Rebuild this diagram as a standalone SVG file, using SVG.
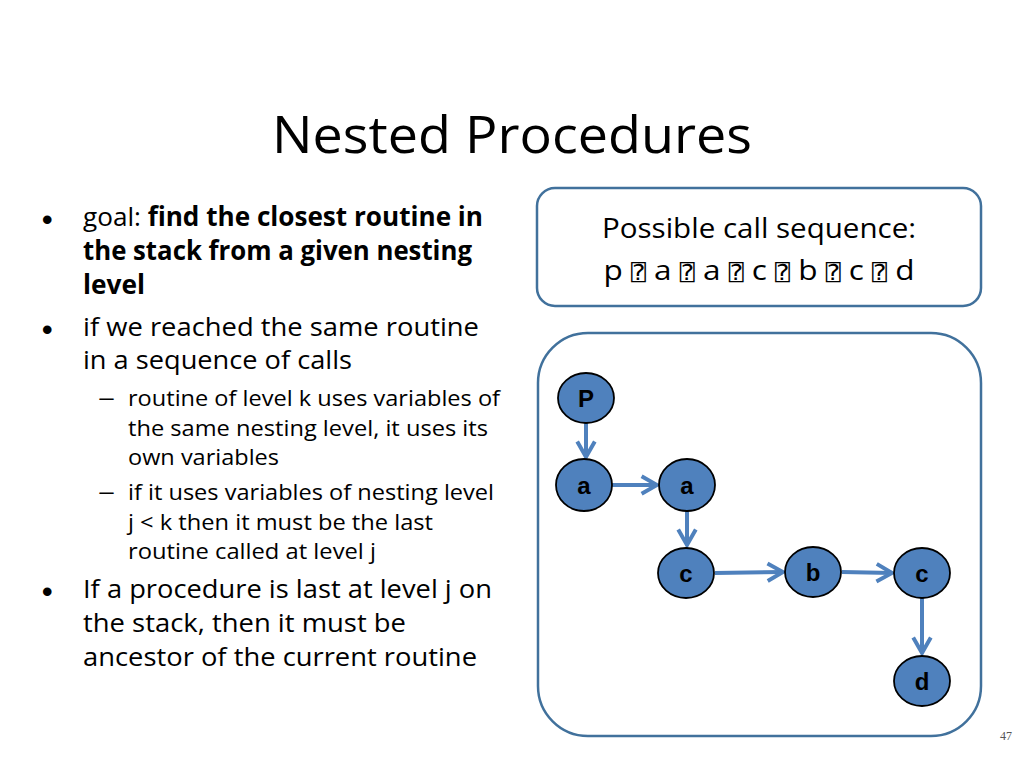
<svg xmlns="http://www.w3.org/2000/svg" width="1024" height="768" viewBox="0 0 1024 768">
<style>
.t{font-family:"Open Sans","Noto Sans","Liberation Sans",sans-serif;fill:#000}
.b1{font-size:26px}
.b2{font-size:22px}
.bul{font-family:"Liberation Sans",Arial,sans-serif;font-size:30px;font-weight:bold}
.bold{font-weight:bold}
.q{font-family:"DejaVu Sans Mono","DejaVu Sans",monospace;font-size:22px}
.box{fill:#fff;stroke:#41719c;stroke-width:2.5}
.node ellipse{fill:#4f81bd;stroke:#000;stroke-width:1.8}
.node text{font-family:"Liberation Sans",Arial,sans-serif;font-weight:bold;font-size:24px;fill:#000;text-anchor:middle}
.conn line{stroke:#4f81bd;stroke-width:4;marker-end:url(#ah)}
</style>
<defs>
<marker id="ah" viewBox="0 0 10 10" refX="8.5" refY="5" markerWidth="5.5" markerHeight="5.5" orient="auto" markerUnits="strokeWidth">
<path d="M1.5,1 L8.5,5 L1.5,9" fill="none" stroke="#4f81bd" stroke-width="1.8"/>
</marker>
</defs>
<rect width="1024" height="768" fill="#fff"/>
<text class="t" x="512" y="153" font-size="52" text-anchor="middle" textLength="480" lengthAdjust="spacingAndGlyphs">Nested Procedures</text>

<g id="bullets">
<text class="bul" x="42" y="230">•</text>
<text class="t b1" x="83" y="226" textLength="400" lengthAdjust="spacingAndGlyphs">goal: <tspan class="bold">find the closest routine in</tspan></text>
<text class="t b1 bold" x="83" y="260" textLength="389" lengthAdjust="spacingAndGlyphs">the stack from a given nesting</text>
<text class="t b1 bold" x="83" y="294" textLength="62" lengthAdjust="spacingAndGlyphs">level</text>
<text class="bul" x="42" y="340">•</text>
<text class="t b1" x="83" y="336" textLength="396" lengthAdjust="spacingAndGlyphs">if we reached the same routine</text>
<text class="t b1" x="83" y="369" textLength="269" lengthAdjust="spacingAndGlyphs">in a sequence of calls</text>
<text class="t b2" x="98" y="405" textLength="17" lengthAdjust="spacingAndGlyphs">–</text>
<text class="t b2" x="128" y="406" textLength="372" lengthAdjust="spacingAndGlyphs">routine of level k uses variables of</text>
<text class="t b2" x="128" y="436" textLength="360" lengthAdjust="spacingAndGlyphs">the same nesting level, it uses its</text>
<text class="t b2" x="128" y="465" textLength="151" lengthAdjust="spacingAndGlyphs">own variables</text>
<text class="t b2" x="98" y="499" textLength="17" lengthAdjust="spacingAndGlyphs">–</text>
<text class="t b2" x="128" y="500" textLength="366" lengthAdjust="spacingAndGlyphs">if it uses variables of nesting level</text>
<text class="t b2" x="128" y="530" textLength="305" lengthAdjust="spacingAndGlyphs">j &lt; k then it must be the last</text>
<text class="t b2" x="128" y="559" textLength="248" lengthAdjust="spacingAndGlyphs">routine called at level j</text>
<text class="bul" x="42" y="602">•</text>
<text class="t b1" x="83" y="598" textLength="409" lengthAdjust="spacingAndGlyphs">If a procedure is last at level j on</text>
<text class="t b1" x="83" y="632" textLength="323" lengthAdjust="spacingAndGlyphs">the stack, then it must be</text>
<text class="t b1" x="83" y="666" textLength="394" lengthAdjust="spacingAndGlyphs">ancestor of the current routine</text>
</g>

<g id="seqbox">
<rect class="box" x="537" y="188" width="444" height="118" rx="18"/>
<text class="t" x="759" y="238" font-size="28" text-anchor="middle" textLength="314" lengthAdjust="spacingAndGlyphs">Possible call sequence:</text>
<text class="t" x="759" y="280" font-size="28" text-anchor="middle" textLength="311" lengthAdjust="spacingAndGlyphs">p <tspan class="q">⍰</tspan> a <tspan class="q">⍰</tspan> a <tspan class="q">⍰</tspan> c <tspan class="q">⍰</tspan> b <tspan class="q">⍰</tspan> c <tspan class="q">⍰</tspan> d</text>
</g>

<rect id="graphbox" class="box" x="538" y="333" width="443" height="403" rx="50"/>

<g id="connectors" class="conn">
<line x1="586" y1="423" x2="586" y2="457"/>
<line x1="612" y1="485" x2="657" y2="485"/>
<line x1="687" y1="511" x2="687" y2="545"/>
<line x1="715" y1="573" x2="783" y2="572"/>
<line x1="842" y1="572" x2="892" y2="573"/>
<line x1="922" y1="598" x2="922" y2="653"/>
</g>

<g id="n_p" class="node"><ellipse cx="586" cy="398" rx="28" ry="25"/><text x="586" y="407">P</text></g>
<g id="n_a1" class="node"><ellipse cx="584" cy="485" rx="28" ry="26"/><text x="584" y="494">a</text></g>
<g id="n_a2" class="node"><ellipse cx="687" cy="485" rx="28" ry="26"/><text x="687" y="494">a</text></g>
<g id="n_c1" class="node"><ellipse cx="686" cy="573" rx="28" ry="25"/><text x="686" y="582">c</text></g>
<g id="n_b" class="node"><ellipse cx="813" cy="572" rx="28" ry="25"/><text x="813" y="581">b</text></g>
<g id="n_c2" class="node"><ellipse cx="922" cy="573" rx="28" ry="25"/><text x="922" y="582">c</text></g>
<g id="n_d" class="node"><ellipse cx="922" cy="681" rx="28" ry="25"/><text x="922" y="690">d</text></g>

<text x="1006" y="740" font-family="Liberation Serif,serif" font-size="12" fill="#555" text-anchor="middle">47</text>
</svg>
